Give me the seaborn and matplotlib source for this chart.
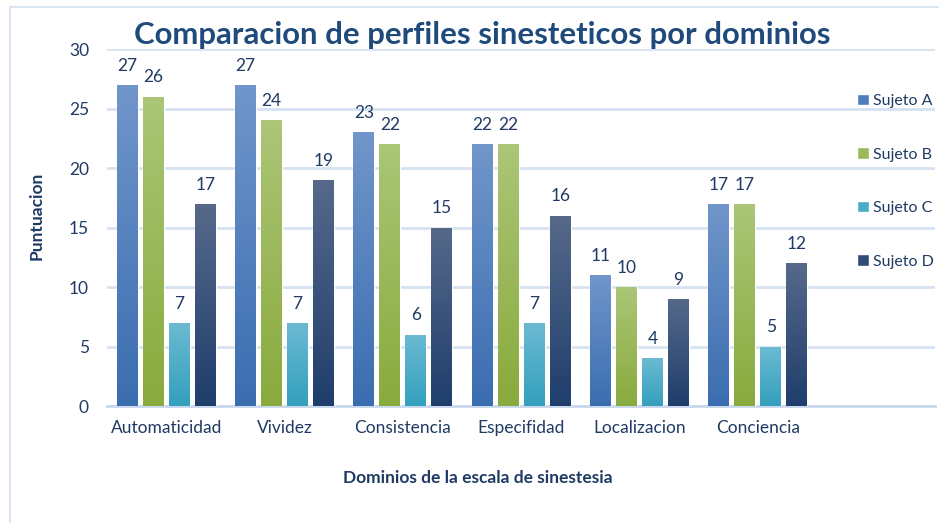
import numpy as np
import pandas as pd
import matplotlib
matplotlib.use("Agg")
import matplotlib.pyplot as plt
from matplotlib.colors import LinearSegmentedColormap
from matplotlib.patches import Rectangle, Patch
import seaborn as sns

categories = ["Automaticidad", "Vividez", "Consistencia", "Especifidad", "Localizacion", "Conciencia"]
series = ["Sujeto A", "Sujeto B", "Sujeto C", "Sujeto D"]
sujeto_a = [27, 27, 23, 22, 11, 17]
sujeto_b = [26, 24, 22, 22, 10, 17]
sujeto_c = [7, 7, 6, 7, 4, 5]
sujeto_d = [17, 19, 15, 16, 9, 12]
y_ticks = [0, 5, 10, 15, 20, 25, 30]

colors_top = ["#7196cb", "#abc677", "#6cbad2", "#56698a"]
colors_bot = ["#3a6db0", "#89aa3d", "#33a0bd", "#1f3e6c"]
colors_mid = ["#4f7fc0", "#9bbb59", "#4bacc6", "#2f4d77"]

df = pd.DataFrame({
    "Dominio": categories * 4,
    "Puntuacion": sujeto_a + sujeto_b + sujeto_c + sujeto_d,
    "Sujeto": sum([[s] * len(categories) for s in series], []),
})

sns.set_theme(style="white")
plt.rcParams["font.family"] = ["Lato", "DejaVu Sans"]
text_color = "#1f3a63"

fig = plt.figure(figsize=(9.39, 5.23), dpi=100)
ax = fig.add_axes([0.114, 0.2237, 0.882, 0.6826])

sns.barplot(data=df, x="Dominio", y="Puntuacion", hue="Sujeto", order=categories,
            hue_order=series, palette=colors_mid, width=0.88, gap=0.2,
            ax=ax, legend=False, zorder=3)

# gradients on bars
for ci, cont in enumerate(ax.containers):
    cmap = LinearSegmentedColormap.from_list(f"g{ci}", [colors_bot[ci], colors_top[ci]])
    for p in cont.patches:
        x0, y0 = p.get_x(), p.get_y()
        w, h = p.get_width(), p.get_height()
        grad = np.linspace(0, 1, 256).reshape(-1, 1)
        im = ax.imshow(grad, extent=[x0, x0 + w, y0, y0 + h], origin="lower",
                       cmap=cmap, aspect="auto", zorder=4)
        im.set_clip_path(p)
    ax.bar_label(cont, padding=8, fontsize=12.5, color=text_color)

ax.set_xlim(-0.5, 6.5)
ax.set_ylim(0, 30)
ax.set_yticks(y_ticks)
ax.set_yticklabels([str(t) for t in y_ticks], fontsize=12.5, color=text_color)
ax.tick_params(axis="y", length=0, pad=13)
ax.tick_params(axis="x", length=0, pad=10, labelsize=12.5, labelcolor=text_color)
ax.set_xticks(range(len(categories)))
ax.set_xticklabels(categories)

ax.yaxis.grid(True, color="#d6e2f1", linewidth=2, zorder=0)
ax.set_axisbelow(True)
for s in ["top", "right", "left"]:
    ax.spines[s].set_visible(False)
ax.spines["bottom"].set_color("#c8d7ec")
ax.spines["bottom"].set_linewidth(2)

ax.set_xlabel("Dominios de la escala de sinestesia", fontsize=12.5, fontweight="bold",
              color=text_color)
ax.set_ylabel("Puntuacion", fontsize=12.5, fontweight="bold", color=text_color)
ax.xaxis.set_label_coords(0.448, -0.179)
ax.yaxis.set_label_coords(-0.075, 0.532)

fig.text(0.514, 0.934, "Comparacion de perfiles sinesteticos por dominios", ha="center",
         va="center", fontsize=22.4, fontweight="bold", color="#1f4a7c")

# legend
handles = [Patch(facecolor=colors_mid[i]) for i in range(4)]
leg = ax.legend(handles, series, loc="center left", bbox_to_anchor=(0.905, 0.63),
                frameon=False, fontsize=11.5, labelspacing=2.45, handlelength=0.75,
                handleheight=0.75, handletextpad=0.3, borderpad=0, borderaxespad=0)
for t in leg.get_texts():
    t.set_color(text_color)

fig.patches.append(Rectangle((0.011, -0.01), 0.995, 0.996, transform=fig.transFigure,
                             fill=False, edgecolor="#dbe6f3", linewidth=1.5))

fig.savefig("out.png", dpi=100)
